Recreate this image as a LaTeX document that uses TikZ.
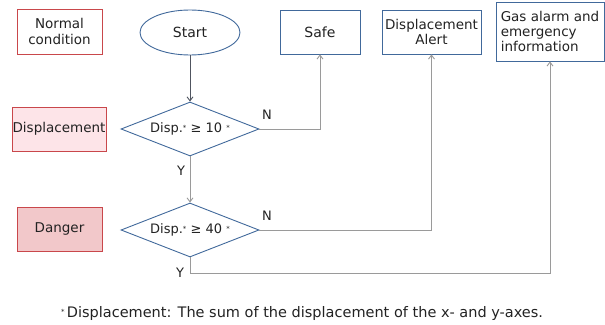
\documentclass[tikz,border=0pt]{standalone}
\usepackage{fontspec}
\setmainfont{DejaVu Sans}
\usetikzlibrary{shapes.geometric,arrows.meta}
\definecolor{bblue}{HTML}{41699B}
\definecolor{rred}{HTML}{C9474B}
\definecolor{pink1}{HTML}{FDE4E8}
\definecolor{pink2}{HTML}{F2C8CA}
\definecolor{lgray}{HTML}{9A9A9A}
\definecolor{dgray}{HTML}{505560}
\definecolor{txt}{HTML}{222222}
\newcommand{\myast}{\raisebox{0.35ex}{\scriptsize *}}
\tikzset{
  lbox/.style={draw=rred, line width=0.7pt, text=txt, font=\fontsize{13.5}{16}\selectfont, align=center, inner sep=0pt, minimum width=#1},
  bbox/.style={draw=bblue, line width=0.8pt, text=txt, font=\fontsize{13.5}{15}\selectfont, inner sep=0pt},
  dia/.style={diamond, aspect=2.556, draw=bblue, line width=0.9pt, text=txt, font=\fontsize{13}{15}\selectfont, minimum width=138pt, minimum height=54pt, inner sep=0pt},
  conn/.style={draw=lgray, line width=0.9pt, -{Straight Barb[length=4pt,width=6pt]}},
  lab/.style={text=txt, font=\fontsize{13}{15}\selectfont, inner sep=0pt}
}
\begin{document}
\begin{tikzpicture}[x=1pt,y=-1pt]
\useasboundingbox (0,0) rectangle (605,324);
% left legend boxes
\node[lbox=85pt, minimum height=45pt] (normal) at (59.5,31.5) {Normal\\condition};
\node[lbox=94pt, minimum height=44pt, fill=pink1] (disp) at (59,129) {Displacement};
\node[lbox=85pt, minimum height=44pt, fill=pink2] (danger) at (59.5,229) {Danger};
% flow
\node[ellipse, draw=bblue, line width=0.9pt, minimum width=100pt, minimum height=45pt, inner sep=0pt, text=txt, font=\fontsize{14}{16}\selectfont] (start) at (190,32.5) {Start};
\node[dia] (d1) at (190,129) {Disp.\myast\ ≥ 10 \myast};
\node[dia] (d2) at (190,230) {Disp.\myast\ ≥ 40 \myast};
\node[bbox, minimum width=80pt, minimum height=44pt, font=\fontsize{14}{16}\selectfont] (safe) at (320,32) {Safe};
\node[bbox, minimum width=99pt, minimum height=44pt, align=center] (alert) at (431.5,32) {Displacement\\Alert};
\node[bbox, minimum width=108pt, minimum height=59pt, align=left] (gas) at (550,31.5) {Gas alarm and\\emergency\\information};
% connectors
\draw[conn, draw=dgray] (start.south) -- (d1.north);
\draw[conn] (d1.south) -- (d2.north);
\draw[conn] (d1.east) -| (safe.south);
\draw[conn] (d2.east) -| (alert.south);
\coordinate (yc) at (190,273);
\draw[conn] (d2.south) -- (yc) -| (gas.south);
% labels
\node[lab] (n1) at (267,115) {N};
\node[lab] (y1) at (181,171) {Y};
\node[lab] (n2) at (267,216) {N};
\node[lab] (y2) at (180,273) {Y};
\node[lab, font=\fontsize{14.5}{16}\selectfont] (foot) at (302,313) {\myast\,Displacement: The sum of the displacement of the x- and y-axes.};
\end{tikzpicture}
\end{document}
